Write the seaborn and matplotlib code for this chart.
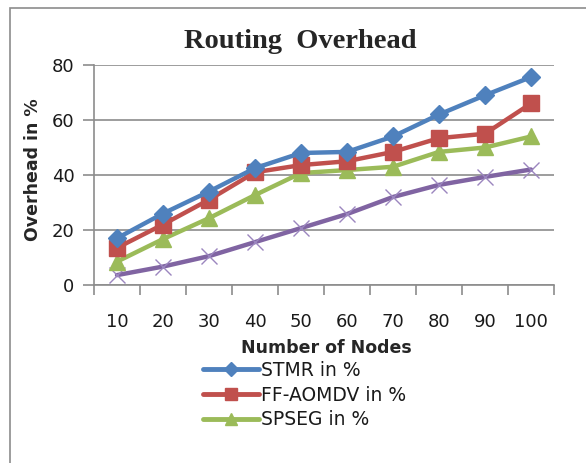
import matplotlib
matplotlib.use("Agg")
import matplotlib.pyplot as plt
import seaborn as sns
import pandas as pd
from matplotlib.patches import Rectangle
from matplotlib.lines import Line2D

nodes = ["10", "20", "30", "40", "50", "60", "70", "80", "90", "100"]
stmr = [17, 26, 34, 42.5, 48, 48.4, 54, 62, 69, 75.6]
ff_aomdv = [13.5, 22, 31, 41, 43.6, 45, 48.4, 53.4, 55, 66]
spseg = [8.5, 16.7, 24.3, 32.7, 40.7, 41.8, 43, 48.4, 50, 54]
series4 = [3.6, 6.7, 10.5, 15.6, 20.7, 25.8, 32, 36.4, 39.3, 42]

names = ["STMR in %", "FF-AOMDV in %", "SPSEG in %", "Series 4"]
values = [stmr, ff_aomdv, spseg, series4]
colors = ["#4F81BD", "#C0504D", "#9BBB59", "#8064A2"]
markers = ["D", "s", "^", "x"]
msizes = [9, 12, 12, 12]

rows = []
for n, v in zip(names, values):
    for x, y in zip(nodes, v):
        rows.append({"Nodes": x, "Overhead": y, "Series": n})
df = pd.DataFrame(rows)

sns.set_style("white")
plt.rcParams["font.family"] = ["DejaVu Sans"]

fig = plt.figure(figsize=(5.86, 4.63), dpi=100)
ax = fig.add_axes([94 / 586, 1 - 285 / 463, 460 / 586, 220 / 463])

for i, (n, c, m, ms) in enumerate(zip(names, colors, markers, msizes)):
    sub = df[df["Series"] == n]
    mec = c
    mew = 1.0
    if m == "x":
        mec = "#9B86BF"
    sns.lineplot(data=sub, x="Nodes", y="Overhead", ax=ax, color=c, marker=m,
                 markersize=ms, markeredgecolor=mec, markerfacecolor=c,
                 markeredgewidth=mew, linewidth=3.2, sort=False,
                 legend=False, zorder=3 + (3 - i))

ax.set_xlim(-0.5, 9.5)
ax.set_ylim(0, 80)
ax.set_yticks([0, 20, 40, 60, 80])
ax.yaxis.grid(True, color="#8C8C8C", linewidth=1.2)
ax.xaxis.grid(False)
for s in ["top", "right"]:
    ax.spines[s].set_visible(False)
for s in ["left", "bottom"]:
    ax.spines[s].set_color("#8C8C8C")
    ax.spines[s].set_linewidth(1.2)
ax.set_xticks(range(len(nodes)))
ax.set_xticklabels(nodes)
ax.set_xticks([i - 0.5 for i in range(len(nodes) + 1)], minor=True)
ax.tick_params(axis="both", which="both", bottom=True, left=True)
ax.tick_params(axis="x", which="major", length=0, pad=20, labelsize=13, colors="#1A1A1A")
ax.tick_params(axis="x", which="minor", length=7, width=1.2, color="#8C8C8C", direction="out")
ax.tick_params(axis="y", which="major", length=8, width=1.2, color="#8C8C8C", labelsize=13,
               pad=6, labelcolor="#1A1A1A", direction="out")
ax.set_xlabel("")
ax.set_ylabel("")

fig.text(326 / 586, 1 - 348 / 463, "Number of Nodes", ha="center", va="center",
         fontsize=12.5, fontweight="bold")
fig.text(33 / 586, 1 - 170 / 463, "Overhead in %", ha="center", va="center",
         rotation=90, fontsize=12.5, fontweight="bold")
fig.text(300 / 586, 1 - 41 / 463, "Routing  Overhead", ha="center", va="center",
         fontsize=20.5, fontweight="bold", family=["Liberation Serif", "DejaVu Serif"])

leg_sizes = [7, 9, 9]
handles = [Line2D([], [], color=c, marker=m, markersize=s, linewidth=3.5,
                  markeredgecolor=c)
           for c, m, s in zip(colors[:3], markers[:3], leg_sizes)]
fig.legend(handles, names[:3], loc="upper left",
           bbox_to_anchor=(203 / 586, 1 - 361 / 463), frameon=False,
           fontsize=13.5, handlelength=3.0, handletextpad=0.1,
           labelspacing=0.3, borderaxespad=0, borderpad=0,
           labelcolor="#1A1A1A")

fig.patches.append(Rectangle((10 / 586, -0.1), 1.2, 1 - 8 / 463 + 0.1,
                             transform=fig.transFigure, fill=False,
                             edgecolor="#8C8C8C", linewidth=1.2))

fig.savefig("out.png", dpi=100)
